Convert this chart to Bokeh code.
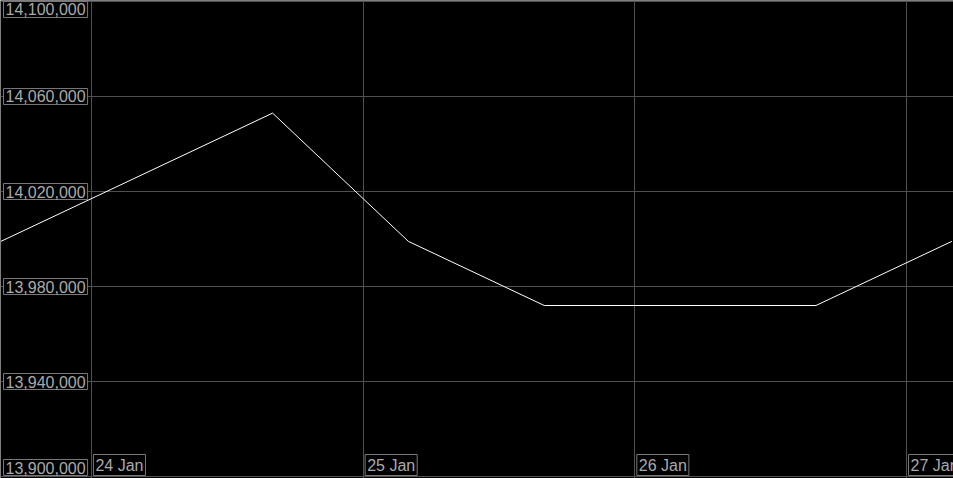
from datetime import datetime
from bokeh.plotting import figure
from bokeh.models import Range1d, FixedTicker, Label
from bokeh.embed import file_html
from bokeh.resources import INLINE

# ---- data ----
times = [datetime(2024, 1, 23, 16), datetime(2024, 1, 24, 16), datetime(2024, 1, 25, 4),
         datetime(2024, 1, 25, 16), datetime(2024, 1, 26, 16), datetime(2024, 1, 27, 4)]
values = [13999000, 14053000, 13999000, 13972000, 13972000, 13999000]

y_ticks = [13900000, 13940000, 13980000, 14020000, 14060000, 14100000]
y_tick_labels = ["13,900,000", "13,940,000", "13,980,000", "14,020,000", "14,060,000", "14,100,000"]

x_ticks = [datetime(2024, 1, 24), datetime(2024, 1, 25), datetime(2024, 1, 26), datetime(2024, 1, 27)]
x_tick_labels = ["24 Jan", "25 Jan", "26 Jan", "27 Jan"]

x_start = datetime(2024, 1, 23, 15, 58)
x_end = datetime(2024, 1, 27, 4, 9)
y_start = 13899158
y_end = 14100421


def ms(dt):
    return (dt - datetime(1970, 1, 1)).total_seconds() * 1000.0


W, H = 953, 478
p = figure(width=W, height=H, x_axis_type="datetime", output_backend="svg",
           toolbar_location=None, min_border=0,
           x_range=Range1d(x_start, x_end), y_range=Range1d(y_start, y_end))
p.background_fill_color = "black"
p.border_fill_color = "black"
p.outline_line_color = None
for ax in p.axis:
    ax.visible = False

p.xgrid.ticker = FixedTicker(ticks=[ms(t) for t in x_ticks])
p.ygrid.ticker = FixedTicker(ticks=y_ticks)
p.grid.grid_line_color = "#505050"
p.grid.grid_line_width = 1
p.grid.grid_line_alpha = 1.0

p.line(times, values, line_color="white", line_width=1)

FONT = "Liberation Sans"
common = dict(text_color="#aaaaaa", text_font=FONT, text_font_size="16px",
              background_fill_color="black", border_line_color="#787878",
              padding=2)

for i, (v, lab) in enumerate(zip(y_ticks, y_tick_labels)):
    if i == 0:
        base, yoff = "bottom", 1
    elif i == len(y_ticks) - 1:
        base, yoff = "top", 0
    else:
        base, yoff = "middle", 0
    p.add_layout(Label(x=3, x_units="screen", y=v, y_units="data", y_offset=yoff,
                       text=lab, text_baseline=base, text_align="left", **common))

for t, lab in zip(x_ticks, x_tick_labels):
    p.add_layout(Label(x=ms(t), x_units="data", x_offset=2, y=3, y_units="screen",
                       text=lab, text_baseline="bottom", text_align="left", **common))

open("out.html", "w").write(file_html(p, INLINE))
